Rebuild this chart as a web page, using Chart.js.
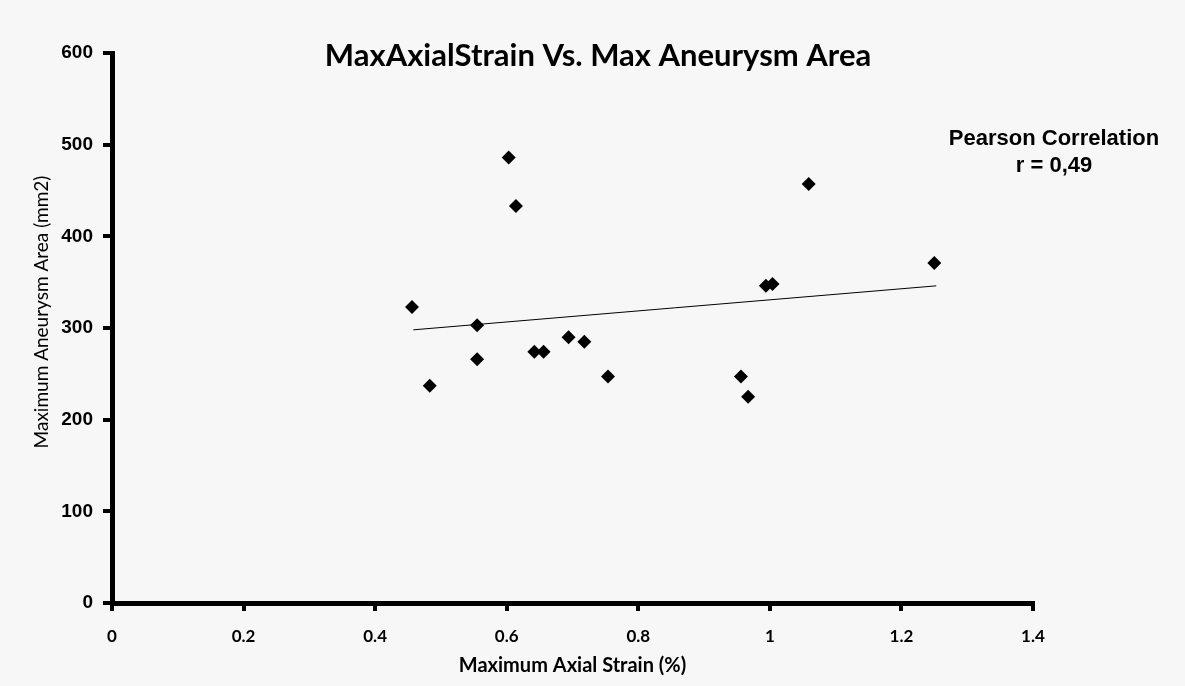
<!DOCTYPE html>
<html>
<head>
<meta charset="utf-8">
<script src="https://cdn.jsdelivr.net/npm/chart.js@4.4.0/dist/chart.umd.min.js"></script>
<style>
  html, body { margin: 0; padding: 0; background: #f7f7f7; }
  #wrap { width: 1185px; height: 686px; position: relative; }
</style>
</head>
<body>
<div id="wrap"><canvas id="myChart"></canvas></div>
<script>
// data
var strain = [0.456, 0.483, 0.555, 0.555, 0.603, 0.614, 0.642, 0.656, 0.694, 0.718, 0.754, 0.956, 0.967, 0.994, 1.004, 1.059, 1.250];
var area   = [323, 237, 303, 266, 486, 433, 274, 274, 290, 285, 247, 247, 225, 346, 348, 457, 371];
// trend line end points
var trendX = [0.458, 1.253];
var trendY = [298, 346];

var xTicks = [0, 0.2, 0.4, 0.6, 0.8, 1, 1.2, 1.4];
var yTicks = [0, 100, 200, 300, 400, 500, 600];

var chartTitle = "MaxAxialStrain Vs. Max Aneurysm Area";
var xTitle = "Maximum Axial Strain (%)";
var yTitle = "Maximum Aneurysm Area (mm2)";
var noteLines = ["Pearson Correlation", "r = 0,49"];

var points = strain.map(function (x, i) { return { x: x, y: area[i] }; });
var trend = trendX.map(function (x, i) { return { x: x, y: trendY[i] }; });

// draws the title, y title and the correlation note
var textPlugin = {
    id: 'texts',
    afterDraw: function (chart) {
        var ctx = chart.ctx;
        ctx.save();
        ctx.fillStyle = '#000';
        ctx.textAlign = 'center';
        ctx.textBaseline = 'middle';

        ctx.font = 'bold 31px Lato, sans-serif';
        ctx.fillText(chartTitle, 598, 56);

        ctx.font = 'bold 22px "Liberation Sans", Arial, sans-serif';
        ctx.fillText(noteLines[0], 1054, 139);
        ctx.fillText(noteLines[1], 1054, 166);

        ctx.translate(42, 312);
        ctx.rotate(-Math.PI / 2);
        ctx.font = '19px Lato, sans-serif';
        ctx.fillText(yTitle, 0, 0);
        ctx.restore();
    }
};

var ctx = document.getElementById('myChart').getContext('2d');
var myChart = new Chart(ctx, {
    type: 'scatter',
    data: {
        datasets: [{
            label: 'Area',
            data: points,
            pointStyle: 'rectRot',
            pointRadius: 7,
            pointBackgroundColor: '#000',
            pointBorderColor: '#000',
            pointBorderWidth: 0,
            showLine: false
        }, {
            label: 'Trend',
            data: trend,
            showLine: true,
            borderColor: '#000',
            borderWidth: 1,
            pointRadius: 0
        }]
    },
    options: {
        responsive: true,
        maintainAspectRatio: false,
        animation: false,
        layout: { padding: { left: 0, top: 53, right: 152, bottom: 0 } },
        plugins: {
            legend: { display: false },
            tooltip: { enabled: false },
            title: { display: false }
        },
        scales: {
            x: {
                type: 'linear',
                min: 0,
                max: 1.4,
                afterBuildTicks: function (scale) {
                    scale.ticks = xTicks.map(function (v) { return { value: v }; });
                },
                afterFit: function (scale) { scale.height = 83; },
                grid: { drawOnChartArea: false, drawTicks: true, tickLength: 8, color: '#000', lineWidth: 4 },
                border: { display: true, color: '#000', width: 5 },
                ticks: {
                    padding: 15,
                    color: '#000',
                    font: { family: 'Lato', size: 17, weight: 'bold' },
                    maxRotation: 0,
                    callback: function (v) { return String(v); }
                },
                title: {
                    display: true,
                    text: xTitle,
                    color: '#000',
                    font: { family: 'Lato', size: 20, weight: 'bold' },
                    padding: { top: 0, bottom: 8 }
                }
            },
            y: {
                type: 'linear',
                min: 0,
                max: 600,
                afterBuildTicks: function (scale) {
                    scale.ticks = yTicks.map(function (v) { return { value: v }; });
                },
                afterFit: function (scale) { scale.width = 112; },
                grid: { drawOnChartArea: false, drawTicks: true, tickLength: 9, color: '#000', lineWidth: 4 },
                border: { display: true, color: '#000', width: 5 },
                ticks: {
                    padding: 10,
                    color: '#000',
                    font: { family: 'Liberation Sans', size: 19, weight: 'bold' }
                }
            }
        }
    },
    plugins: [textPlugin]
});
</script>
</body>
</html>
